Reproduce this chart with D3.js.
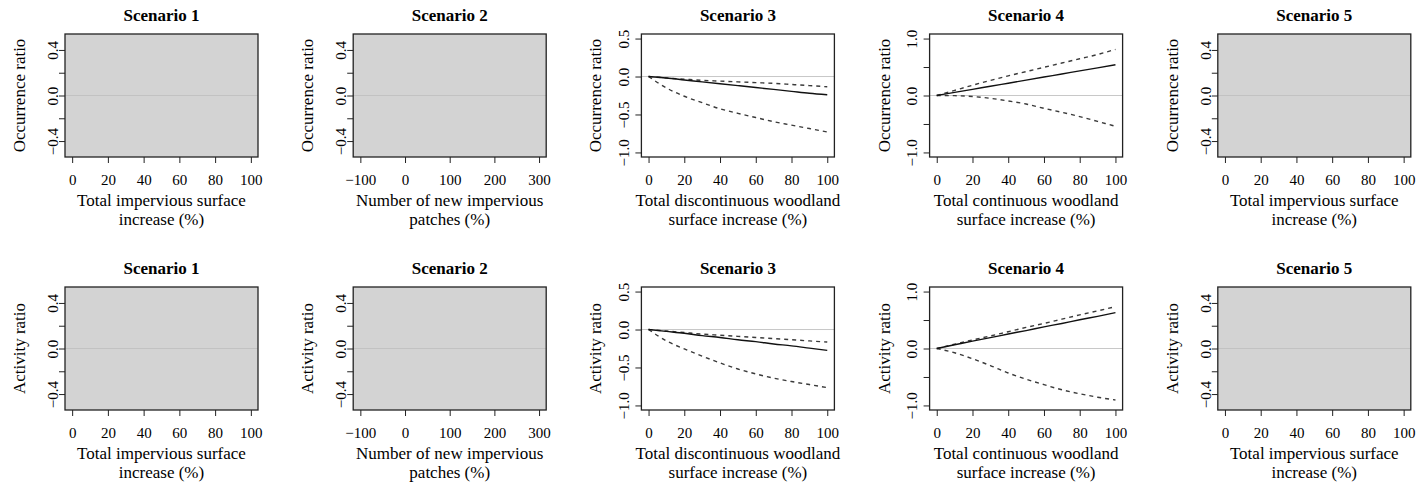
<!DOCTYPE html>
<html>
<head>
<meta charset="utf-8">
<script src="https://cdn.jsdelivr.net/npm/d3@7"></script>
<style>
  body { margin: 0; background: #fff; }
  svg text { font-family: "Liberation Serif", Tinos, "Times New Roman", Times, "DejaVu Serif", serif !important; fill: #000; }
</style>
</head>
<body>
<div class="chart"></div>
<script>
// x values where the curves were read (% increase)
const xVals = [0, 10, 20, 30, 40, 50, 60, 70, 80, 90, 100];

// Occurrence ratio, scenario 3 (discontinuous woodland)
const occS3Mean  = [0, -0.02, -0.045, -0.07, -0.095, -0.12, -0.145, -0.17, -0.195, -0.22, -0.24];
const occS3Upper = [0, -0.02, -0.035, -0.05, -0.06, -0.07, -0.08, -0.09, -0.105, -0.12, -0.135];
const occS3Lower = [0, -0.15, -0.26, -0.345, -0.425, -0.485, -0.54, -0.595, -0.64, -0.685, -0.73];

// Occurrence ratio, scenario 4 (continuous woodland)
const occS4Mean  = [0, 0.054, 0.108, 0.162, 0.216, 0.27, 0.324, 0.378, 0.432, 0.486, 0.54];
const occS4Upper = [0, 0.09, 0.18, 0.265, 0.345, 0.42, 0.495, 0.57, 0.645, 0.72, 0.81];
const occS4Lower = [0, -0.003, -0.018, -0.05, -0.095, -0.15, -0.225, -0.295, -0.37, -0.455, -0.54];

// Activity ratio, scenario 3
const actS3Mean  = [0, -0.025, -0.05, -0.08, -0.105, -0.135, -0.16, -0.19, -0.215, -0.245, -0.275];
const actS3Upper = [0, -0.02, -0.04, -0.06, -0.075, -0.09, -0.105, -0.12, -0.135, -0.15, -0.165];
const actS3Lower = [0, -0.15, -0.255, -0.35, -0.44, -0.52, -0.585, -0.64, -0.685, -0.725, -0.765];

// Activity ratio, scenario 4
const actS4Mean  = [0, 0.065, 0.13, 0.19, 0.255, 0.315, 0.38, 0.44, 0.505, 0.565, 0.63];
const actS4Upper = [0, 0.075, 0.15, 0.22, 0.295, 0.37, 0.44, 0.515, 0.59, 0.66, 0.735];
const actS4Lower = [0, -0.075, -0.18, -0.30, -0.43, -0.54, -0.635, -0.725, -0.795, -0.855, -0.905];

const scenarioTitles = ["Scenario 1", "Scenario 2", "Scenario 3", "Scenario 4", "Scenario 5"];
const rowLabels = ["Occurrence ratio", "Activity ratio"];
const xLabels = [
  ["Total impervious surface", "increase (%)"],
  ["Number of new impervious", "patches (%)"],
  ["Total discontinuous woodland", "surface increase (%)"],
  ["Total continuous woodland", "surface increase (%)"],
  ["Total impervious surface", "increase (%)"]
];
const xTicksPct = [0, 20, 40, 60, 80, 100];
const xTicksPatches = [-100, 0, 100, 200, 300];
const yTicksSmall = [-0.4, -0.2, 0, 0.2, 0.4];
const yLabelsSmall = [-0.4, 0, 0.4];
const yTicksS3 = [-1, -0.5, 0, 0.5];
const yTicksS4 = [-1, -0.5, 0, 0.5, 1];
const yLabelsS4 = [-1, 0, 1];

// curves per row, per scenario (null = empty grey panel)
const curves = [
  [null, null, {mean: occS3Mean, lo: occS3Lower, hi: occS3Upper},
               {mean: occS4Mean, lo: occS4Lower, hi: occS4Upper}, null],
  [null, null, {mean: actS3Mean, lo: actS3Lower, hi: actS3Upper},
               {mean: actS4Mean, lo: actS4Lower, hi: actS4Upper}, null]
];

const width = 1417, height = 484;
const plotW = 193, plotH = 123;
const colLeft = i => 65 + i * 288.2;
const rowTop = [34, 287];
const serif = '"Liberation Serif", Tinos, "Times New Roman", Times, "DejaVu Serif", serif';

// R-style 4% axis expansion
const expand = ([a, b]) => { const p = (b - a) * 0.04; return [a - p, b + p]; };
const fmt = v => (v < 0 ? "\u2212" : "") + Math.abs(v).toFixed(1);

const svg = d3.select(".chart").append("svg")
    .attr("width", width)
    .attr("height", height)
    .attr("font-family", serif);

rowTop.forEach((top, r) => {
  scenarioTitles.forEach((title, c) => {
    const spec = curves[r][c];
    const xDom = c === 1 ? [-100, 300] : [0, 100];
    const xTicks = c === 1 ? xTicksPatches : xTicksPct;
    let yDom = [-0.5, 0.5], yTicks = yTicksSmall, yLab = yLabelsSmall;
    if (c === 2) { yDom = [-1, 0.5]; yTicks = yTicksS3; yLab = yTicksS3; }
    if (c === 3) { yDom = [-1, 1]; yTicks = yTicksS4; yLab = yLabelsS4; }

    const g = svg.append("g")
        .attr("transform", `translate(${colLeft(c)},${top})`);

    const xScale = d3.scaleLinear().domain(expand(xDom)).range([0, plotW]);
    const yScale = d3.scaleLinear().domain(expand(yDom)).range([plotH, 0]);

    g.append("rect")
        .attr("width", plotW)
        .attr("height", plotH)
        .attr("fill", spec ? "#ffffff" : "#d3d3d3");

    g.append("line")
        .attr("x1", 0).attr("x2", plotW)
        .attr("y1", yScale(0)).attr("y2", yScale(0))
        .attr("stroke", spec ? "#c8c8c8" : "#c2c2c2")
        .attr("stroke-width", 1);

    if (spec) {
      const line = key => d3.line()
          .curve(d3.curveMonotoneX)
          .x((d, i) => xScale(xVals[i]))
          .y(d => yScale(d))(spec[key]);
      [["lo", true], ["hi", true], ["mean", false]].forEach(([k, dashed]) => {
        g.append("path")
            .attr("d", line(k))
            .attr("fill", "none")
            .attr("stroke", dashed ? "#3a3a3a" : "#111")
            .attr("stroke-width", 1.4)
            .attr("stroke-dasharray", dashed ? "4,4" : null);
      });
    }

    g.append("rect")
        .attr("width", plotW)
        .attr("height", plotH)
        .attr("fill", "none")
        .attr("stroke", "#222")
        .attr("stroke-width", 1.3);

    // x axis
    g.append("g")
        .attr("transform", `translate(0,${plotH})`)
        .call(d3.axisBottom(xScale).tickValues(xTicks).tickSize(6).tickSizeOuter(0).tickFormat(d3.format("d")))
        .attr("font-family", serif)
        .call(a => a.select(".domain").remove())
        .call(a => a.selectAll(".tick line").attr("stroke", "#222"))
        .call(a => a.selectAll(".tick text")
            .attr("y", 17)
            .attr("font-size", 15));

    // y axis, labels parallel to the axis
    const labOff = spec ? 18 : 12;
    g.append("g")
        .call(d3.axisLeft(yScale).tickValues(yTicks).tickSize(6).tickSizeOuter(0)
            .tickFormat(d => yLab.some(v => Math.abs(v - d) < 1e-9) ? fmt(d) : ""))
        .attr("font-family", serif)
        .call(a => a.select(".domain").remove())
        .call(a => a.selectAll(".tick line").attr("stroke", "#222"))
        .call(a => a.selectAll(".tick text")
            .attr("transform", "rotate(-90)")
            .attr("x", 0)
            .attr("y", -labOff)
            .attr("dy", "0.35em")
            .attr("text-anchor", "middle")
            .attr("font-size", 15));

    g.append("text")
        .attr("x", plotW / 2)
        .attr("y", -13)
        .attr("text-anchor", "middle")
        .attr("font-size", 17)
        .attr("font-weight", "bold")
        .text(title);

    g.append("text")
        .attr("transform", "rotate(-90)")
        .attr("x", -plotH / 2)
        .attr("y", -46)
        .attr("dy", "0.35em")
        .attr("text-anchor", "middle")
        .attr("font-size", 17)
        .text(rowLabels[r]);

    xLabels[c].forEach((t, k) => {
      g.append("text")
          .attr("x", plotW / 2)
          .attr("y", plotH + 49 + k * 19)
          .attr("text-anchor", "middle")
          .attr("font-size", 17)
          .text(t);
    });
  });
});
</script>
</body>
</html>
